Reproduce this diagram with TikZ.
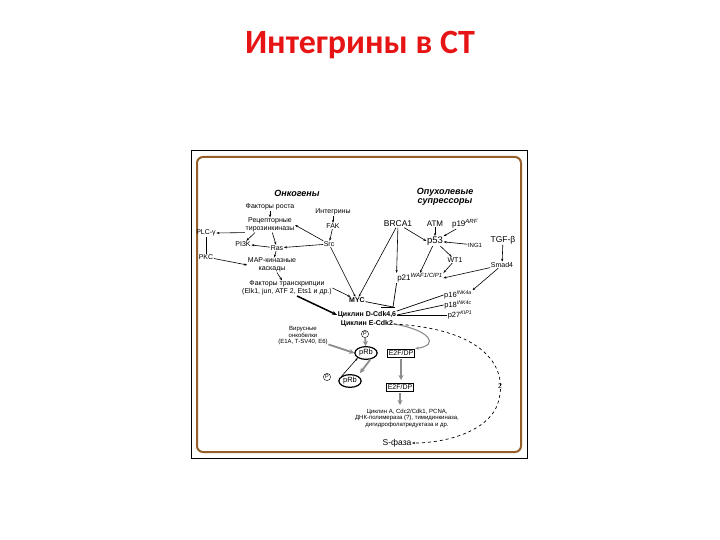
\documentclass[tikz,border=0pt]{standalone}
\usepackage{fontspec}
\setmainfont{Liberation Sans}
\newfontfamily\titlefont{Carlito}
\usetikzlibrary{arrows.meta,shapes.geometric}
\definecolor{titlered}{RGB}{230,20,20}
\definecolor{framebrown}{RGB}{150,95,40}
\definecolor{grarc}{RGB}{140,140,140}
\tikzset{
  lbl/.style={font=\fontsize{7}{7.5}\selectfont, inner sep=0.5pt, align=center},
  hd/.style={font=\fontsize{9}{9.5}\selectfont\itshape\bfseries, inner sep=0.5pt, align=center},
  ar/.style={-{Stealth[length=3pt]}, line width=0.6pt},
  grar/.style={-{Stealth[length=5pt,width=5pt]}, line width=1.8pt, grarc},
  dsh/.style={-{Stealth[length=3pt]}, line width=0.7pt, dashed},
  ov/.style={ellipse, draw, line width=1.2pt, inner sep=1pt, font=\fontsize{7.5}{7.5}\selectfont},
  bx/.style={draw, line width=0.6pt, inner sep=1.5pt, font=\fontsize{7}{7}\selectfont},
  pc/.style={circle, draw, inner sep=0.7pt, font=\fontsize{5.5}{5.5}\selectfont}
}
\begin{document}
\begin{tikzpicture}[x=1pt,y=-1pt]
\useasboundingbox (0,0) rectangle (720,540);
\node[text=titlered, font=\titlefont\fontsize{34}{36}\selectfont\bfseries] (title) at (360,45) {Интегрины в СТ};
\draw[line width=0.8pt] (191,150) rectangle (527,458);
\draw[framebrown, line width=2pt, rounded corners=6pt] (197,157) rectangle (521,452);
% headers
\node[hd] (onc) at (297,193) {Онкогены};
\node[hd] (sup) at (445,197) {Опухолевые\\супрессоры};
% left column
\node[lbl] (gf) at (270,207) {Факторы роста};
\node[lbl] (rtk) at (270,225) {Рецепторные\\тирозинкиназы};
\node[lbl] (int) at (333,212) {Интегрины};
\node[lbl] (fak) at (333,226) {FAK};
\node[lbl] (plc) at (206,233) {PLC-γ};
\node[lbl] (pkc) at (206,257) {PKC};
\node[lbl] (pi3k) at (243,244) {PI3K};
\node[lbl] (ras) at (277,248) {Ras};
\node[lbl] (src) at (329,244) {Src};
\node[lbl] (map) at (272,265) {MAP-киназные\\каскады};
\node[lbl] (tf) at (287,288) {Факторы транскрипции\\(Elk1, jun, ATF 2, Ets1 и др.)};
\node[lbl,font=\fontsize{7}{7}\selectfont\bfseries] (myc) at (357,300) {MYC};
% right column
\node[lbl,font=\fontsize{8.5}{8.5}\selectfont] (brca) at (398,224) {BRCA1};
\node[lbl,font=\fontsize{8}{8}\selectfont] (atm) at (435,224) {ATM};
\node[lbl,font=\fontsize{8}{8}\selectfont] (p19) at (465,224) {p19\textsuperscript{\itshape ARF}};
\node[lbl,font=\fontsize{9.5}{9.5}\selectfont] (p53) at (435,241) {p53};
\node[lbl,font=\fontsize{6}{6}\selectfont] (ing) at (475,245) {ING1};
\node[lbl,font=\fontsize{8.5}{8.5}\selectfont] (tgf) at (503,240) {TGF-β};
\node[lbl] (smad) at (502,265) {Smad4};
\node[lbl] (wt1) at (455,260) {WT1};
\node[lbl,font=\fontsize{8}{8}\selectfont] (p21) at (420,278) {p21\textsuperscript{\itshape WAF1/CIP1}};
\node[lbl,font=\fontsize{7.5}{8}\selectfont] (p16) at (458,295) {p16\textsuperscript{\itshape INK4a}};
\node[lbl,font=\fontsize{7.5}{8}\selectfont] (p18) at (458,305) {p18\textsuperscript{\itshape INK4c}};
\node[lbl,font=\fontsize{7.5}{8}\selectfont] (p27) at (460,315) {p27\textsuperscript{\itshape KIP1}};
\coordinate (junc) at (393,307);
% cyclins
\node[lbl,font=\fontsize{7}{7}\selectfont\bfseries] (cycd) at (367,315) {Циклин D-Cdk4,6};
\node[lbl,font=\fontsize{7}{7}\selectfont\bfseries] (cyce) at (367,324) {Циклин E-Cdk2};
\node[pc] (p1) at (365,334) {P};
\node[lbl,font=\fontsize{6}{6.5}\selectfont] (vir) at (303,336) {Вирусные\\онкобелки\\(E1A, T-SV40, E6)};
\node[ov] (prb1) at (366,353) {pRb};
\node[bx] (e2f1) at (401,353) {E2F/DP};
\node[pc] (p2) at (327,377) {P};
\node[ov] (prb2) at (350,381) {pRb};
\node[bx] (e2f2) at (400,387) {E2F/DP};
\node[lbl,font=\fontsize{6}{6.5}\selectfont] (genes) at (407,418) {Циклин А, Cdc2/Cdk1, PCNA,\\ДНК-полимераза (?), тимидинкиназа,\\дигидрофолатредуктаза и др.};
\node[lbl,font=\fontsize{8.5}{8.5}\selectfont] (sph) at (397,443) {S-фаза};
\node[lbl] (two) at (500,386) {2};
\coordinate (thk) at (297,296);
% left arrows
\draw[ar] (gf) -- (rtk);
\draw[ar] (rtk) -- (ras);
\draw[ar] (rtk.south west) -- (plc.east);
\draw[ar] (rtk.south) ++(-15,0) -- (pi3k);
\draw[ar] (src) -- (rtk.east);
\draw (plc) -- (pkc);
\draw[ar] (ras) -- (pi3k);
\draw[ar] (src) -- (ras);
\draw[ar] (ras) -- (map);
\draw[ar] (pkc) -- (map.west);
\draw[ar] (map) -- (tf);
\draw[ar] (int) -- (fak);
\draw[ar] (fak) -- (src);
\draw[ar] (src) -- (myc);
\draw[ar] (tf.east) -- (myc);
% right arrows
\draw[ar] (atm) -- (p53);
\draw[ar] (p19) -- (p53);
\draw[ar] (ing) -- (p53);
\draw[ar] (brca) -- (p53.west);
\draw[ar] (p53) -- (p21.north);
\draw[ar] (p53) -- (wt1);
\draw[ar] (wt1) -- (p21.north east);
\draw[ar] (brca) -- (p21.north west);
\draw[ar] (tgf) -- (smad);
\draw[ar] (smad) -- (p21.east);
\draw[ar] (smad) -- (p16.north east);
\draw[ar] (brca) -- (myc);
% inhibitor junctions
\draw[line width=0.7pt] (p21.south west) -- (junc);
\draw[line width=0.7pt] (myc) -- (junc);
\draw[line width=0.7pt] (381,307) -- (395,307);
\draw[line width=0.7pt] (p16.west) -- (cycd.north east);
\draw[line width=0.7pt] (p18.west) -- (cycd.east);
\draw[line width=0.7pt] (p27.west) -- (cycd.east);
\draw[-{Stealth[length=5pt]}, line width=1.5pt] (thk) -- (cycd.west);
% lower part
\draw[grar] (p1) -- (prb1);
\draw[grar] (vir) -- (prb1.west);
\draw[ar] (prb2.north west) -- (prb1.south west);
\draw[grar] (370,360) -- (360,373);
\draw[grar] (401,359) -- (401,380);
\draw[grar] (400,393) -- (400,405);
\draw[grarc, line width=1.1pt, -{Stealth[length=4pt]}] (cyce.east) .. controls (430,330) and (440,345) .. (e2f1.north east);
\draw[dsh] (cyce.east) .. controls (500,330) and (510,380) .. (495,410) .. controls (480,435) and (440,443) .. (sph.east);
\end{tikzpicture}
\end{document}
